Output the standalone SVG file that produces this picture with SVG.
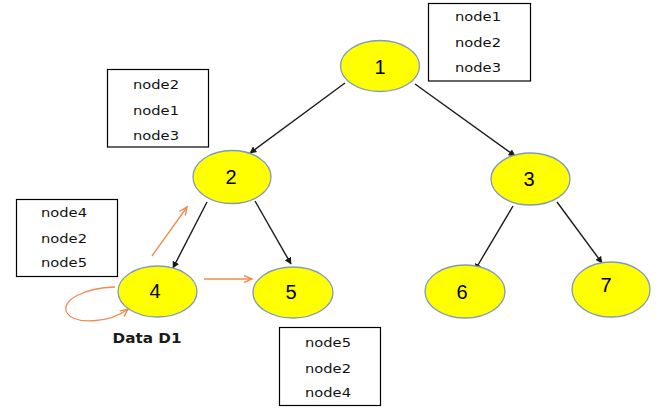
<svg xmlns="http://www.w3.org/2000/svg" width="662" height="409" viewBox="0 0 662 409">
  <style>
    .node ellipse { fill: #ffff00; stroke: #7f9bb8; stroke-width: 1.3; }
    .node text { font-family: "Liberation Sans", Arial, sans-serif; font-size: 20px; fill: #000; text-anchor: middle; dominant-baseline: central; }
    .box rect { fill: #fff; stroke: #000; stroke-width: 1.2; }
    .box text { font-family: "DejaVu Sans", Verdana, sans-serif; font-size: 11.5px; fill: #111; dominant-baseline: central; }
    .edge { stroke: #1a1a1a; stroke-width: 1.4; fill: none; marker-end: url(#arrowBlack); }
    .flow { stroke: #f08a4b; stroke-width: 1.3; fill: none; marker-end: url(#arrowOrange); }
    .caption { font-family: "DejaVu Sans", Verdana, sans-serif; font-weight: bold; font-size: 13.5px; fill: #1a1a1a; text-anchor: middle; }
  </style>
  <defs>
    <marker id="arrowBlack" viewBox="0 0 10 10" refX="9" refY="5" markerWidth="7" markerHeight="7" markerUnits="userSpaceOnUse" orient="auto">
      <path d="M0,0 L10,5 L0,10 Z" fill="#1a1a1a"/>
    </marker>
    <marker id="arrowOrange" viewBox="0 0 10 10" refX="9" refY="5" markerWidth="9" markerHeight="9" markerUnits="userSpaceOnUse" orient="auto">
      <path d="M0,1 L9,5 L0,9" fill="none" stroke="#f08a4b" stroke-width="1.6"/>
    </marker>
  </defs>
  <rect width="662" height="409" fill="#fff"/>

  <!-- tree connectors and data flow arrows -->
  <g id="connectors">
    <line class="edge" x1="345" y1="83" x2="250" y2="153"/>
    <line class="edge" x1="415" y1="84" x2="515" y2="156"/>
    <line class="edge" x1="207" y1="202" x2="173" y2="268"/>
    <line class="edge" x1="255" y1="201" x2="291" y2="264"/>
    <line class="edge" x1="513" y1="206" x2="475" y2="270"/>
    <line class="edge" x1="557" y1="202" x2="602" y2="263"/>
    <line class="flow" x1="152" y1="256" x2="187" y2="207"/>
    <line class="flow" x1="204" y1="279" x2="252" y2="279"/>
    <path class="flow" d="M115,287 C85,288 60,300 67,313 C75,325 110,323 128,309"/>
  </g>

  <g id="node1" class="node"><ellipse cx="380" cy="66" rx="39.5" ry="25.5"/><text x="380" y="67">1</text></g>
  <g id="node2" class="node"><ellipse cx="232" cy="177" rx="39" ry="26.5"/><text x="231" y="177">2</text></g>
  <g id="node3" class="node"><ellipse cx="530.5" cy="179" rx="39.5" ry="26"/><text x="529" y="179">3</text></g>
  <g id="node4" class="node"><ellipse cx="157.5" cy="291.5" rx="39.5" ry="25.5"/><text x="155" y="291">4</text></g>
  <g id="node5" class="node"><ellipse cx="293" cy="292.5" rx="40" ry="25.5"/><text x="291" y="292">5</text></g>
  <g id="node6" class="node"><ellipse cx="465" cy="291.5" rx="40" ry="26.5"/><text x="462" y="292">6</text></g>
  <g id="node7" class="node"><ellipse cx="611" cy="289.5" rx="39" ry="27.5"/><text x="606" y="285">7</text></g>

  <g id="list1" class="box">
    <rect x="428.5" y="3.5" width="102" height="77.5"/>
    <text x="455" y="17" textLength="46" lengthAdjust="spacingAndGlyphs">node1</text>
    <text x="455" y="43" textLength="46" lengthAdjust="spacingAndGlyphs">node2</text>
    <text x="455" y="68" textLength="46" lengthAdjust="spacingAndGlyphs">node3</text>
  </g>
  <g id="list2" class="box">
    <rect x="107.5" y="69.5" width="101" height="77.5"/>
    <text x="133" y="85" textLength="46" lengthAdjust="spacingAndGlyphs">node2</text>
    <text x="133" y="111" textLength="46" lengthAdjust="spacingAndGlyphs">node1</text>
    <text x="133" y="136" textLength="46" lengthAdjust="spacingAndGlyphs">node3</text>
  </g>
  <g id="list4" class="box">
    <rect x="16.5" y="199.5" width="101" height="77"/>
    <text x="41" y="213" textLength="46" lengthAdjust="spacingAndGlyphs">node4</text>
    <text x="41" y="239" textLength="46" lengthAdjust="spacingAndGlyphs">node2</text>
    <text x="41" y="263" textLength="46" lengthAdjust="spacingAndGlyphs">node5</text>
  </g>
  <g id="list5" class="box">
    <rect x="279.5" y="327.5" width="101" height="78"/>
    <text x="305" y="343" textLength="46" lengthAdjust="spacingAndGlyphs">node5</text>
    <text x="305" y="369" textLength="46" lengthAdjust="spacingAndGlyphs">node2</text>
    <text x="305" y="393" textLength="46" lengthAdjust="spacingAndGlyphs">node4</text>
  </g>

  <text class="caption" x="147" y="343" textLength="69" lengthAdjust="spacingAndGlyphs">Data D1</text>
</svg>
